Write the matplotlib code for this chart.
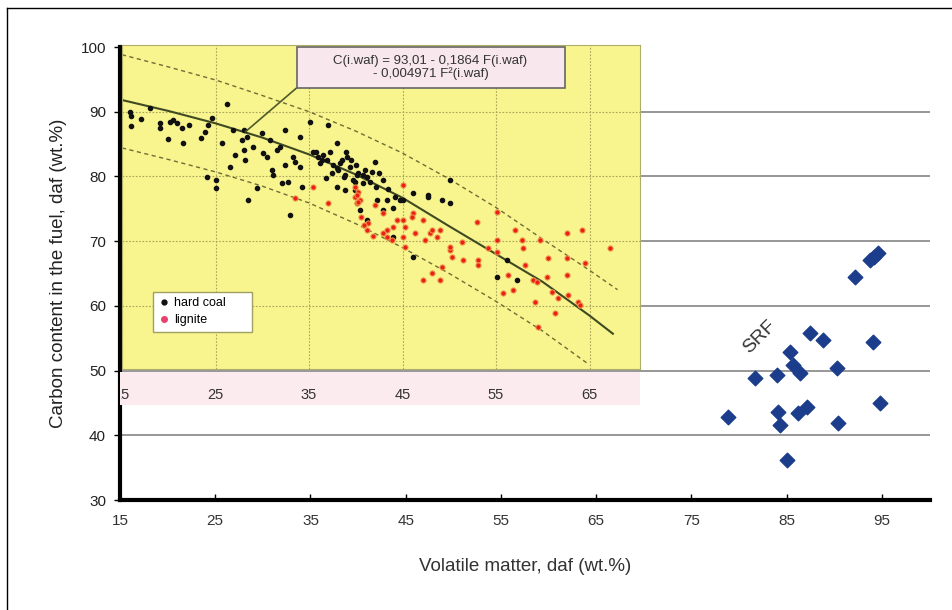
import matplotlib.pyplot as plt
from matplotlib.lines import Line2D
from matplotlib.patches import Rectangle
from matplotlib.transforms import Bbox, TransformedBbox

plt.rcParams['font.family'] = ['Liberation Sans', 'DejaVu Sans']

# hard coal points (volatile matter, carbon content)
hard_coal_x = [15.9, 16.0, 16.0, 18.0, 19.1, 19.1, 19.9, 20.1, 20.5, 20.9, 21.4, 21.5,
               23.5, 23.9, 24.2, 24.6, 24.1, 25.0, 25.1, 26.2, 25.7, 26.6, 26.9, 27.1,
               27.8, 28.0, 28.0, 28.2, 28.4, 28.5, 29.0, 29.4, 30.0, 30.1, 30.5, 30.8,
               31.0, 31.2, 31.6, 31.9, 32.1, 32.4, 32.4, 32.8, 33.0, 33.3, 33.5, 34.0,
               34.0, 34.2, 35.1, 35.4, 36.0, 36.4, 37.0, 37.2, 37.6, 38.0, 38.1, 38.5,
               38.7, 39.0, 39.4, 39.7, 40.2, 40.5, 40.8, 41.2, 41.5, 42.1, 42.2, 42.9,
               43.3, 44.2, 44.7, 46.1, 46.1, 47.7, 49.2, 50.1, 50.1, 44.0, 41.2, 40.1,
               36.2, 36.5, 36.9, 38.0, 38.3, 38.9, 39.1, 39.9, 40.1, 40.8, 41.7, 38.9,
               39.9, 42.3, 42.9, 44.0, 45.0, 47.7, 38.0, 39.5, 40.0, 41.0, 42.5, 43.5,
               37.5, 36.8, 55.1, 57.2, 56.2, 17.0, 22.2, 35.8]
hard_coal_y = [90.0, 89.3, 87.8, 90.6, 88.2, 87.5, 85.8, 88.4, 88.7, 88.2, 87.5, 85.2,
               85.9, 86.9, 88.0, 89.0, 79.9, 79.5, 78.2, 91.2, 85.2, 81.5, 87.2, 83.3,
               85.6, 87.2, 84.1, 82.6, 86.1, 76.4, 84.6, 78.2, 86.7, 83.6, 83.0, 85.6,
               81.0, 80.2, 84.1, 84.6, 79.0, 87.2, 81.8, 79.1, 74.0, 83.0, 82.2, 86.1,
               81.5, 78.4, 88.4, 83.8, 83.0, 82.5, 88.0, 83.8, 81.8, 85.2, 81.0, 82.5,
               79.9, 83.8, 81.5, 79.5, 80.5, 74.8, 79.0, 79.9, 79.1, 82.2, 78.4, 79.5,
               76.4, 76.8, 76.4, 77.4, 67.6, 76.8, 76.4, 79.5, 75.9, 70.6, 73.3, 75.9,
               82.1, 83.3, 82.5, 81.3, 82.1, 80.2, 83.0, 79.1, 80.2, 80.2, 80.7, 77.9,
               77.9, 76.4, 74.8, 75.1, 76.4, 77.1, 78.4, 82.5, 81.7, 81.0, 80.5, 78.0,
               80.5, 79.8, 64.5, 64.0, 67.1, 88.9, 87.9, 83.8]

# lignite points
lignite_x = [35.4, 33.5, 37.0, 39.9, 39.9, 40.1, 40.2, 40.5, 41.2, 41.3, 42.1, 42.9,
             42.9, 43.3, 43.9, 44.4, 45.0, 45.1, 45.3, 45.3, 46.1, 46.3, 47.2, 47.4,
             47.9, 48.2, 48.7, 49.0, 47.2, 48.2, 49.0, 50.1, 50.3, 51.4, 51.5, 53.0,
             53.1, 55.1, 55.1, 55.1, 54.1, 53.1, 50.1, 57.0, 57.8, 57.9, 58.1, 59.7,
             60.6, 60.5, 62.6, 64.2, 62.6, 64.5, 62.6, 67.2, 56.3, 55.7, 56.8, 59.0,
             59.4, 59.2, 61.0, 61.6, 61.3, 62.7, 63.8, 64.0, 59.5, 40.1, 40.2, 43.3,
             44.0, 45.0, 46.0, 40.6, 40.9, 41.8, 49.2]
lignite_y = [78.4, 76.7, 75.9, 78.4, 76.8, 75.9, 77.6, 76.4, 71.7, 72.8, 75.6, 74.3,
             71.3, 71.7, 70.2, 73.3, 78.7, 70.6, 72.2, 69.1, 74.3, 71.3, 73.3, 70.2,
             71.3, 71.7, 70.6, 71.7, 64.0, 65.1, 64.0, 68.6, 67.6, 69.9, 67.1, 73.0,
             67.1, 74.5, 70.2, 68.3, 68.9, 66.3, 69.1, 71.7, 70.2, 68.9, 66.3, 70.2,
             67.4, 64.5, 71.3, 71.7, 67.4, 66.6, 64.8, 68.9, 64.8, 62.0, 62.5, 64.0,
             63.7, 60.6, 62.1, 61.2, 58.9, 61.7, 60.6, 60.1, 56.7, 77.1, 76.1, 70.6,
             72.2, 73.3, 73.7, 73.8, 72.5, 70.8, 66.0]

# fitted curve and its dashed band
fit_x = [15, 20, 25, 30, 35, 40, 45, 50, 55, 60, 65, 67.5]
fit_y = [91.8, 90.1, 88.2, 86.0, 83.4, 80.3, 76.7, 72.3, 68.0, 63.7, 58.5, 55.7]
upper_x = [15, 20, 25, 30, 35, 40, 45, 50, 55, 60, 65, 68]
upper_y = [98.8, 96.9, 94.9, 92.5, 90.0, 87.0, 83.6, 79.6, 75.2, 70.3, 65.5, 62.5]
lower_x = [15, 20, 25, 30, 35, 40, 45, 50, 55, 60, 64.7]
lower_y = [84.4, 82.6, 80.7, 78.5, 75.9, 72.7, 69.0, 65.0, 60.7, 56.1, 51.2]

# SRF samples
srf_x = [78.8, 81.7, 84.0, 84.1, 84.3, 85.0, 85.3, 85.7, 86.4, 86.2, 87.1,
         87.4, 88.8, 90.3, 90.4, 92.2, 93.7, 94.2, 94.6, 94.1, 94.8]
srf_y = [42.8, 48.9, 49.3, 43.6, 41.6, 36.2, 52.9, 50.9, 49.6, 43.4, 44.4,
         55.8, 54.7, 50.4, 41.9, 64.5, 67.1, 67.6, 68.2, 54.4, 45.0]

main_xticks = [15, 25, 35, 45, 55, 65, 75, 85, 95]
main_yticks = [30, 40, 50, 60, 70, 80, 90, 100]
inset_xticks = [15, 25, 35, 45, 55, 65]
inset_yticks = [60, 70, 80, 90]

fig = plt.figure(figsize=(9.52, 6.10), dpi=100)

# main axes
ax = fig.add_axes([120 / 952, 0.1803, 0.8504, 0.7426])
ax.set_xlim(15, 100)
ax.set_ylim(30, 100)
ax.set_xticks(main_xticks)
ax.set_yticks(main_yticks)
ax.set_axisbelow(True)
ax.yaxis.grid(True, color='#8f8f8f', lw=1.3)
ax.yaxis.get_gridlines()[-1].set_visible(False)
for side in ['top', 'right']:
    ax.spines[side].set_visible(False)
for side in ['left', 'bottom']:
    ax.spines[side].set_linewidth(3)
ax.tick_params(axis='x', direction='in', length=4, width=1, pad=10,
               labelsize=11, labelcolor='#333333')
ax.tick_params(axis='y', direction='out', length=4, width=1, pad=6,
               labelsize=11, labelcolor='#222222')
ax.set_xlabel('Volatile matter, daf (wt.%)', fontsize=13.5, color='#333333', labelpad=22)
ax.set_ylabel('Carbon content in the fuel, daf (wt.%)', fontsize=13.5, color='#222222',
              labelpad=10)

ax.scatter(srf_x, srf_y, marker='D', s=55, color='#1c3d8b', zorder=3)
ax.text(82.2, 55.2, 'SRF', rotation=45, fontsize=14, color='#333333',
        ha='center', va='center')

# pink strip behind the inset tick labels
fig.add_artist(Rectangle((120 / 952, 1 - 405 / 610), 520 / 952, 33 / 610,
                         transform=fig.transFigure, facecolor='#fbebef',
                         edgecolor='none', zorder=1))

# yellow inset
ax_in = fig.add_axes([122 / 952, 1 - 369 / 610, 518 / 952, 324 / 610], zorder=2)
ax_in.set_facecolor('#f8f48e')
ax_in.set_xlim(15.1, 70.4)
ax_in.set_ylim(50.25, 100.3)
ax_in.set_xticks(inset_xticks)
ax_in.set_yticks(inset_yticks)
ax_in.grid(True, ls=(0, (1.5, 1.5)), color='#a9a65a', lw=0.8)
ax_in.set_axisbelow(True)
ax_in.tick_params(axis='x', length=0, pad=14, labelsize=10.5, labelcolor='#333333')
ax_in.tick_params(axis='y', length=0, labelleft=False)
for s in ax_in.spines.values():
    s.set_color('#b0ad6a')
    s.set_linewidth(0.8)

clip = TransformedBbox(Bbox([[121.5 / 952, 0], [1, 1]]), fig.transFigure)
for t in ax_in.get_xticklabels():
    t.set_clip_box(clip)
    t.set_clip_on(True)

ax_in.plot(upper_x, upper_y, ls=(0, (3, 2.5)), color='#6e6e36', lw=1.0)
ax_in.plot(lower_x, lower_y, ls=(0, (3, 2.5)), color='#6e6e36', lw=1.0)
ax_in.plot(fit_x, fit_y, color='#3f4a22', lw=1.5)

ax_in.scatter(hard_coal_x, hard_coal_y, s=9, color='#111111', zorder=3)
ax_in.scatter(lignite_x, lignite_y, s=14, color='#e8201a', edgecolors='#f29a48',
              linewidths=0.7, zorder=3)

# equation box with leader line
ax_in.add_patch(Rectangle((33.7, 93.7), 28.65, 6.3, facecolor='#f8e8ee',
                          edgecolor='#666666', lw=1.2, zorder=5))
ax_in.text(48.0, 96.85, 'C(i.waf) = 93,01 - 0,1864 F(i.waf)\n- 0,004971 F²(i.waf)',
           ha='center', va='center', fontsize=9.5, color='#333333',
           linespacing=1.0, zorder=6)
ax_in.annotate('', xy=(28.2, 86.9), xytext=(33.7, 93.7),
               arrowprops=dict(arrowstyle='-', color='#4f5a2a', lw=1.2,
                               shrinkA=0, shrinkB=0))

handles = [Line2D([], [], ls='none', marker='o', ms=3.5, color='#111111'),
           Line2D([], [], ls='none', marker='o', ms=4, color='#e8406a')]
leg = ax_in.legend(handles, ['hard coal      ', 'lignite'], loc='lower left',
                   bbox_to_anchor=(0.06, 0.114), borderaxespad=0, fontsize=9,
                   fancybox=False, edgecolor='#a0a060', framealpha=1,
                   handletextpad=0.3, handlelength=0.9, borderpad=0.45,
                   labelspacing=0.4)
leg.get_frame().set_linewidth(1.0)

# outer frame (left and top only)
fig.add_artist(Line2D([7 / 952, 7 / 952], [0, 1 - 8 / 610], transform=fig.transFigure,
                      color='black', lw=1))
fig.add_artist(Line2D([7 / 952, 1], [1 - 8 / 610, 1 - 8 / 610], transform=fig.transFigure,
                      color='black', lw=1))

fig.savefig('out.png', dpi=100)
